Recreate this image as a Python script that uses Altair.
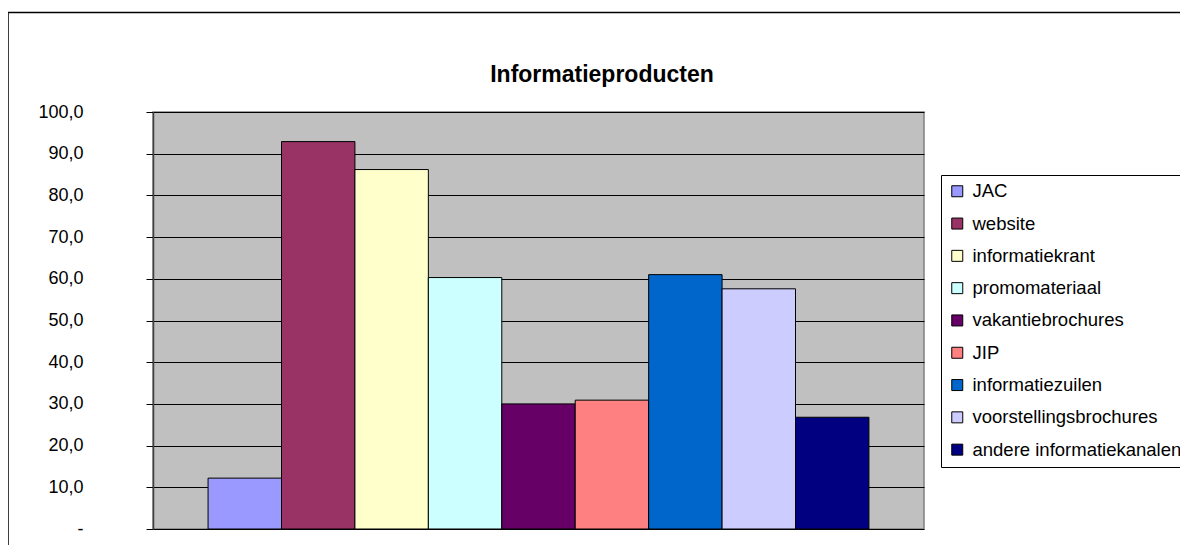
import altair as alt
import pandas as pd

categories = ["JAC", "website", "informatiekrant", "promomateriaal", "vakantiebrochures",
              "JIP", "informatiezuilen", "voorstellingsbrochures", "andere informatiekanalen"]
values = [12.2, 92.9, 86.2, 60.3, 30.0, 30.9, 61.0, 57.6, 26.8]
colors = ["#9999FF", "#993366", "#FFFFCC", "#CCFFFF", "#660066",
          "#FF8080", "#0066CC", "#CCCCFF", "#000080"]
y_ticks = [0, 10, 20, 30, 40, 50, 60, 70, 80, 90, 100]
title_text = "Informatieproducten"

FONT = "Liberation Sans"

df = pd.DataFrame({"product": categories, "pct": values})

bars = alt.Chart(df).mark_bar(stroke="black", strokeWidth=1).encode(
    x=alt.X("product:N", sort=categories, axis=None,
            scale=alt.Scale(paddingInner=0, paddingOuter=0.75)),
    y=alt.Y("pct:Q",
            scale=alt.Scale(domain=[0, 100], nice=False),
            axis=alt.Axis(values=y_ticks, title=None,
                          labelExpr="datum.value == 0 ? '-' : replace(format(datum.value, '.1f'), '.', ',')",
                          labelFont=FONT, labelFontSize=18, labelColor="black",
                          labelPadding=63, labelBaseline="middle",
                          tickColor="black", tickSize=7, tickWidth=1,
                          domainColor="#404040", domainWidth=1.5,
                          gridColor="black", gridWidth=1)),
    color=alt.Color("product:N", sort=categories,
                    scale=alt.Scale(domain=categories, range=colors),
                    legend=alt.Legend(title=None, orient="none", legendX=788, legendY=63,
                                      symbolType="square", symbolSize=121,
                                      symbolStrokeColor="black", symbolStrokeWidth=1,
                                      labelFont=FONT, labelFontSize=18.5, labelColor="black",
                                      labelLimit=400, rowPadding=13.3, padding=7,
                                      labelOffset=6, symbolOffset=0,
                                      strokeColor="black", fillColor="white")),
)

frame = alt.Chart(pd.DataFrame({"f": [1]})).mark_rect(
    fillOpacity=0, stroke="black", strokeWidth=1.5
).encode(
    x=alt.value(-145), x2=alt.value(1200), y=alt.value(-99.5), y2=alt.value(700)
)

title = alt.Chart(pd.DataFrame({"t": [title_text]})).mark_text(
    font=FONT, fontSize=23, fontWeight="bold", color="black",
    align="center", baseline="middle"
).encode(
    text="t:N", x=alt.value(449), y=alt.value(-37)
)

chart = alt.layer(bars, frame, title).properties(
    width=771, height=417,
    autosize=alt.AutoSizeParams(type="none"),
    padding={"left": 145, "top": 104, "right": 256, "bottom": 16},
    background="white",
).configure_view(
    fill="#C0C0C0", stroke="#808080", strokeWidth=1.5
)

chart.save("out.html", embed_options={"renderer": "svg", "actions": False})
